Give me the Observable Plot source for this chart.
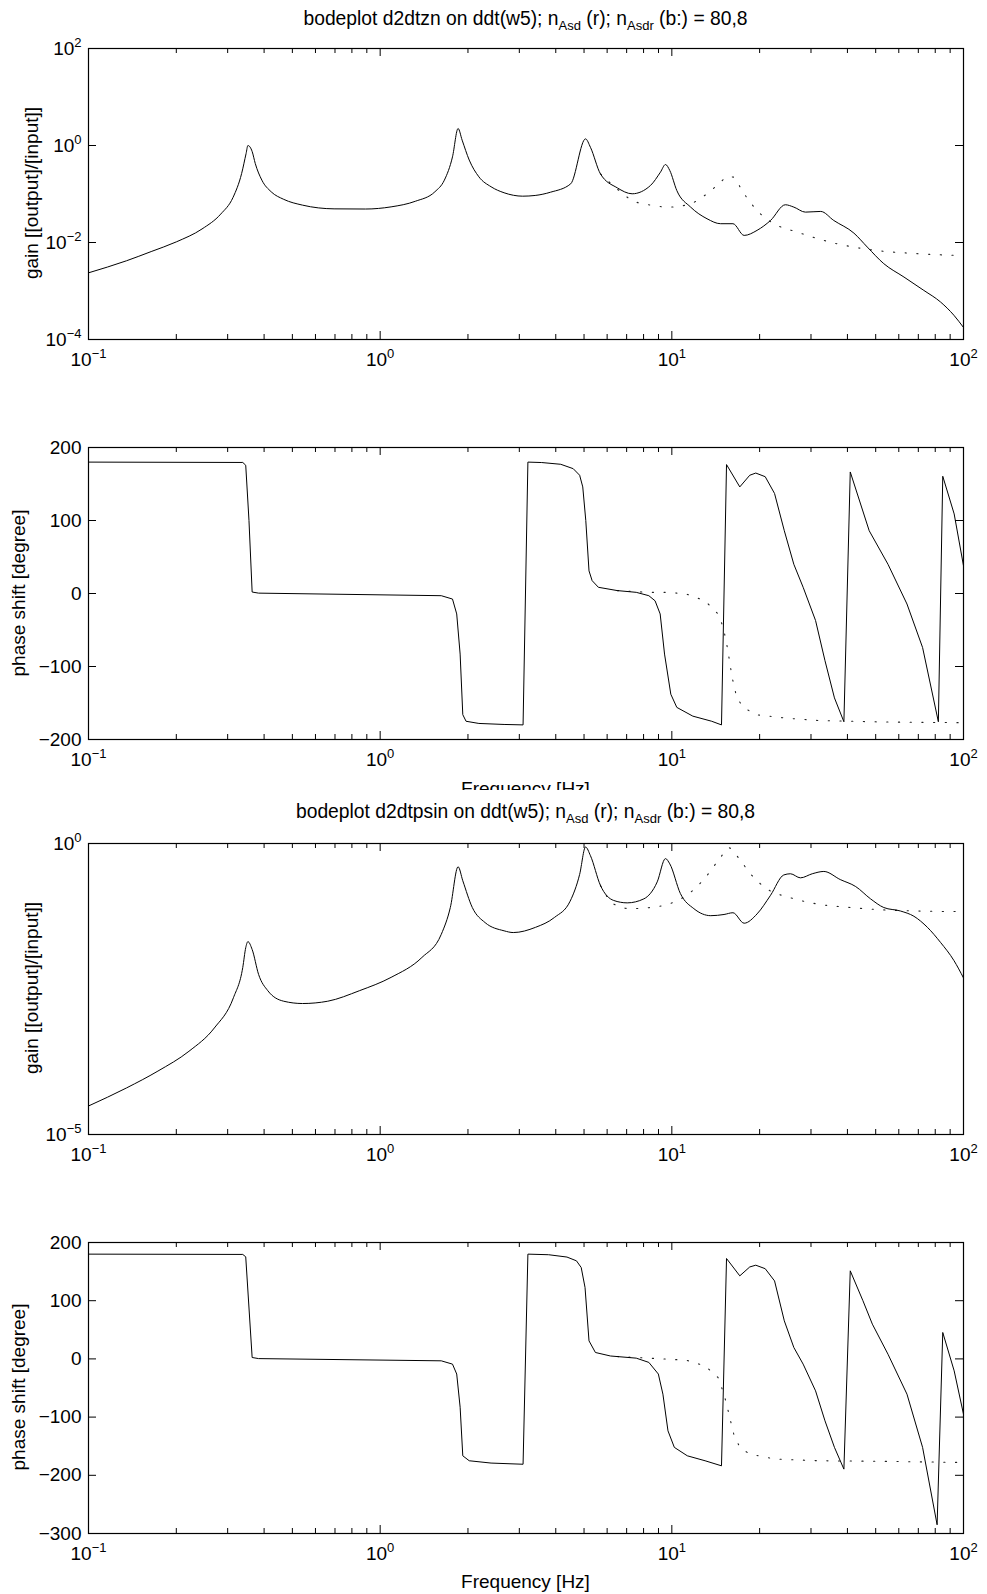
<!DOCTYPE html>
<html><head><meta charset="utf-8">
<script src="https://cdn.jsdelivr.net/npm/d3@7"></script>
<script src="https://cdn.jsdelivr.net/npm/@observablehq/plot@0.6"></script>
<style>
html,body{margin:0;padding:0;background:#fff;}
#root{position:relative;width:987px;height:1594px;overflow:hidden;background:#fff;font-family:"Liberation Sans",Arial,sans-serif;color:#000;}
.panel{position:absolute;left:0;}
.title{position:absolute;left:88px;width:875px;text-align:center;font-size:19.3px;white-space:nowrap;line-height:22px;}
.title sub{font-size:13px;vertical-align:-5px;line-height:0;}
.cover{position:absolute;left:0;width:987px;background:#fff;}
.ylab{position:absolute;white-space:nowrap;font-size:19px;line-height:22px;transform:translate(-50%,-50%) rotate(-90deg);}
.xlab{position:absolute;left:88px;width:875px;text-align:center;font-size:19px;line-height:22px;}
</style></head><body><div id="root"></div>
<script>
// ---------- data (frequency in Hz, gain ratio / phase in degrees) ----------
const majorF = [0.1, 1, 10, 100];
const minorF = [0.2,0.3,0.4,0.5,0.6,0.7,0.8,0.9, 2,3,4,5,6,7,8,9, 20,30,40,50,60,70,80,90];

const titleTop = "bodeplot d2dtzn on ddt(w5); n<sub>Asd</sub> (r); n<sub>Asdr</sub> (b:) = 80,8";
const titleBottom = "bodeplot d2dtpsin on ddt(w5); n<sub>Asd</sub> (r); n<sub>Asdr</sub> (b:) = 80,8";
const gainLabel = "gain [[output]/[input]]";
const phaseLabel = "phase shift [degree]";
const freqLabel = "Frequency [Hz]";

const gainTicks1 = [1e-4, 1e-2, 1, 1e2];
const gainTicks2 = [1e-5, 1];
const phaseTicks1 = [-200, -100, 0, 100, 200];
const phaseTicks2 = [-300, -200, -100, 0, 100, 200];

// panel 1: gain d2dtzn
const gain1Solid = [[0.1,2.37e-3],[0.135,4.2e-3],[0.164,6.5e-3],[0.2,0.0103],[0.245,0.0190],[0.284,0.0385],[0.313,0.0850],[0.335,0.265],[0.347,0.684],[0.352,1.0],[0.364,0.752],[0.373,0.427],[0.393,0.193],[0.423,0.111],[0.467,0.0776],[0.542,0.0589],[0.695,0.0494],[0.891,0.0490],[1.09,0.0543],[1.32,0.0708],[1.54,0.111],[1.66,0.193],[1.77,0.583],[1.85,2.24],[1.91,1.29],[2.02,0.501],[2.18,0.226],[2.40,0.141],[2.66,0.106],[3.08,0.0902],[3.40,0.0933],[3.84,0.109],[4.50,0.162],[5.06,1.37],[5.26,0.918],[5.69,0.261],[6.50,0.134],[7.31,0.101],[8.45,0.150],[9.14,0.282],[9.51,0.405],[9.84,0.305],[10.4,0.118],[11.6,0.0537],[13.2,0.0309],[14.7,0.0244],[16.2,0.0244],[17.7,0.0140],[19.6,0.0178],[21.8,0.0285],[24.5,0.060],[26.2,0.0537],[28.7,0.0423],[32.4,0.0437],[35.9,0.0285],[42.1,0.0156],[46.8,8.04e-3],[53.3,3.66e-3],[62.5,1.94e-3],[73.1,1.03e-3],[83.4,5.94e-4],[92.7,3.16e-4],[100,1.77e-4]];
const gain1Dotted = [[5.69,0.261],[6.50,0.126],[7.31,0.0741],[8.45,0.0589],[9.84,0.0537],[11.6,0.0631],[13.2,0.101],[14.7,0.175],[15.5,0.229],[16.3,0.222],[17.4,0.118],[19.6,0.0457],[22.4,0.0244],[26.9,0.0164],[35.9,9.77e-3],[46.8,7.24e-3],[69.3,5.89e-3],[100,5.37e-3]];

// panel 2: phase d2dtzn
const phase1Solid = [[0.1,180],[0.338,179.5],[0.346,175.7],[0.355,100],[0.364,2],[0.383,0.5],[1.62,-3],[1.77,-7.6],[1.83,-28],[1.88,-83],[1.92,-166],[1.97,-175],[2.18,-178],[2.66,-179.4],[3.09,-180],[3.21,180],[3.58,179.4],[4.16,177],[4.59,171],[4.83,162],[4.95,146],[5.07,100],[5.20,31],[5.33,17.6],[5.60,8.5],[6.50,4],[7.55,1.6],[8.34,-3],[8.76,-10],[9.12,-28],[9.44,-83],[9.92,-138],[10.4,-156],[11.8,-168],[13.7,-175],[14.8,-180],[15.4,176.6],[17.1,146],[18.5,162],[19.4,165],[20.9,160],[22.5,137],[24.3,86],[26.2,40],[28.2,8.5],[31.1,-37],[33.5,-92],[36.1,-143],[38.9,-175.7],[40.9,166.5],[47.5,86],[55.1,40],[64.0,-14.4],[72.4,-74],[82.0,-175.7],[84.9,160.6],[92.9,109],[100,38]];
const phase1Dotted = [[6.50,4],[8.34,1.6],[9.68,1.6],[11.2,-0.7],[13.0,-10],[14.4,-28],[15.0,-46],[15.5,-74],[16.1,-115],[16.7,-143],[17.6,-156],[19.4,-166],[24.9,-171],[31.9,-174],[52.5,-176],[100,-177]];

// panel 3: gain d2dtpsin
const gain2Solid = [[0.1,3.09e-5],[0.135,6.31e-5],[0.173,1.23e-4],[0.221,2.69e-4],[0.270,6.76e-4],[0.314,2.24e-3],[0.338,7.41e-3],[0.346,0.0162],[0.352,0.0206],[0.364,0.0151],[0.383,5.62e-3],[0.412,2.95e-3],[0.467,1.95e-3],[0.542,1.78e-3],[0.661,1.95e-3],[0.848,2.95e-3],[1.09,5.01e-3],[1.39,0.0110],[1.62,0.0275],[1.74,0.0794],[1.85,0.398],[1.92,0.229],[2.07,0.0794],[2.29,0.0437],[2.66,0.0316],[2.86,0.0295],[3.41,0.0363],[3.96,0.0537],[4.48,0.102],[4.83,0.295],[5.06,0.871],[5.26,0.617],[5.69,0.191],[6.32,0.105],[7.03,0.0955],[8.02,0.112],[8.91,0.219],[9.51,0.550],[9.84,0.447],[10.7,0.138],[11.9,0.0759],[13.6,0.0575],[15.1,0.0603],[16.2,0.0646],[17.7,0.0427],[19.6,0.0617],[21.8,0.129],[24.2,0.288],[25.5,0.302],[27.6,0.257],[30.3,0.302],[33.2,0.331],[37.8,0.240],[42.7,0.182],[48.0,0.112],[53.3,0.0794],[60.8,0.0692],[67.6,0.0562],[75.2,0.0363],[83.4,0.0200],[92.7,9.77e-3],[100,4.90e-3]];
const gain2Dotted = [[5.69,0.191],[6.32,0.0912],[7.21,0.0759],[8.45,0.0794],[9.89,0.0933],[11.6,0.145],[13.2,0.282],[14.7,0.582],[15.7,0.841],[17.0,0.550],[18.6,0.302],[21.2,0.166],[25.5,0.117],[31.6,0.0912],[41.0,0.0794],[53.3,0.0724],[69.3,0.0692],[100,0.0676]];

// panel 4: phase d2dtpsin
const phase2Solid = [[0.1,180],[0.338,179.5],[0.346,175.4],[0.364,2.4],[0.383,0.5],[1.62,-3.3],[1.77,-9],[1.83,-26],[1.88,-83],[1.92,-166.5],[2.02,-175],[2.40,-179],[3.09,-181],[3.21,180],[3.78,179],[4.37,175],[4.71,168.5],[4.89,157],[5.04,122.7],[5.20,31],[5.47,11],[6.16,5],[7.55,1.3],[8.34,-6],[8.99,-26],[9.32,-60.6],[9.70,-123.6],[10.2,-152],[11.3,-166.5],[13.0,-175],[14.8,-183.7],[15.4,172.5],[17.1,142.7],[18.5,158],[19.4,161],[20.9,155],[22.5,134],[24.3,65.4],[26.2,19.6],[28.2,-9],[31.1,-54.9],[33.5,-106.4],[36.1,-152],[38.9,-189.4],[40.9,151.3],[45.2,100],[48.7,59.7],[55.1,8],[64.0,-60.6],[72.4,-152],[81.2,-285],[84.9,45.4],[92.9,-20.5],[100,-95]];
const phase2Dotted = [[6.50,4],[8.34,1.3],[11.2,-2.2],[13.0,-12],[14.4,-32],[15.1,-60.6],[15.7,-95],[16.3,-129],[17.1,-152],[18.5,-163.6],[22.5,-172],[31.9,-175],[52.5,-176],[100,-178]];

// ---------- drawing ----------
const root = document.getElementById("root");
const NS = "http://www.w3.org/2000/svg";
const minus = v => v < 0 ? "\u2212" + Math.abs(v) : String(v);
const powFmt = v => { const e = Math.round(Math.log10(v)); return "10^" + (e < 0 ? "\u2212" + (-e) : e); };

function supers(svg) {
  svg.querySelectorAll('g[aria-label$="tick label"] text').forEach(t => {
    const s = t.textContent, i = s.indexOf("^");
    if (i < 0) return;
    t.textContent = "";
    const a = document.createElementNS(NS, "tspan"); a.textContent = s.slice(0, i);
    const b = document.createElementNS(NS, "tspan"); b.textContent = s.slice(i + 1);
    b.setAttribute("dy", "-8"); b.setAttribute("font-size", "13px");
    t.append(a, b);
  });
}

function panel({boxTop, boxH, yType, yDomain, yTicks, yFmt, solid, dotted, curve}) {
  const mT = 20, mB = 40, plotW = 875;
  const svg = Plot.plot({
    width: 987, height: boxH + mT + mB,
    marginLeft: 88, marginRight: 24, marginTop: mT, marginBottom: mB,
    style: {fontFamily: "Liberation Sans, Arial, sans-serif", fontSize: "19px", background: "transparent", color: "#000", overflow: "visible"},
    x: {type: "log", domain: [0.1, 100], label: null},
    y: {type: yType, domain: yDomain, label: null},
    marks: [
      Plot.line(dotted, {x: d => d[0], y: d => d[1], curve, stroke: "#222", strokeWidth: 1.1, strokeDasharray: "1.2,10.5", clip: true}),
      Plot.line(solid, {x: d => d[0], y: d => d[1], curve, stroke: "#000", strokeWidth: 1, clip: true}),
      Plot.tickX(majorF, {x: d => d, insetTop: boxH - 8, stroke: "#000"}),
      Plot.tickX(majorF, {x: d => d, insetBottom: boxH - 8, stroke: "#000"}),
      Plot.tickX(minorF, {x: d => d, insetTop: boxH - 5, stroke: "#000"}),
      Plot.tickX(minorF, {x: d => d, insetBottom: boxH - 5, stroke: "#000"}),
      Plot.tickY(yTicks, {y: d => d, insetRight: plotW - 8, stroke: "#000"}),
      Plot.tickY(yTicks, {y: d => d, insetLeft: plotW - 8, stroke: "#000"}),
      Plot.axisX({ticks: majorF, tickSize: 0, tickPadding: 13, tickFormat: powFmt, label: null, fontSize: 19}),
      Plot.axisY({ticks: yTicks, tickSize: 0, tickPadding: 7, tickFormat: yFmt, label: null, fontSize: 19}),
      Plot.frame({stroke: "#000", strokeWidth: 1.2})
    ]
  });
  supers(svg);
  const wrap = document.createElement("div");
  wrap.className = "panel";
  wrap.style.top = (boxTop - mT) + "px";
  wrap.appendChild(svg);
  root.appendChild(wrap);
}

function addDiv(cls, html, styles) {
  const d = document.createElement("div");
  d.className = cls; d.innerHTML = html;
  Object.assign(d.style, styles);
  root.appendChild(d);
  return d;
}

panel({boxTop: 48, boxH: 291, yType: "log", yDomain: [1e-4, 1e2], yTicks: gainTicks1, yFmt: powFmt, solid: gain1Solid, dotted: gain1Dotted, curve: "monotone-x"});
panel({boxTop: 447, boxH: 292, yType: "linear", yDomain: [-200, 200], yTicks: phaseTicks1, yFmt: minus, solid: phase1Solid, dotted: phase1Dotted, curve: "linear"});
addDiv("xlab", freqLabel, {top: "778px"});
addDiv("cover", "", {top: "790px", height: "42px"});
addDiv("title", titleBottom, {top: "801px"});
panel({boxTop: 843, boxH: 291, yType: "log", yDomain: [1e-5, 1], yTicks: gainTicks2, yFmt: powFmt, solid: gain2Solid, dotted: gain2Dotted, curve: "monotone-x"});
panel({boxTop: 1242, boxH: 291, yType: "linear", yDomain: [-300, 200], yTicks: phaseTicks2, yFmt: minus, solid: phase2Solid, dotted: phase2Dotted, curve: "linear"});
addDiv("xlab", freqLabel, {top: "1571px"});
addDiv("title", titleTop, {top: "8px"});

addDiv("ylab", gainLabel, {left: "31.5px", top: "193px"});
addDiv("ylab", phaseLabel, {left: "19px", top: "593px"});
addDiv("ylab", gainLabel, {left: "31.5px", top: "988px"});
addDiv("ylab", phaseLabel, {left: "19px", top: "1387px"});
</script></body></html>
